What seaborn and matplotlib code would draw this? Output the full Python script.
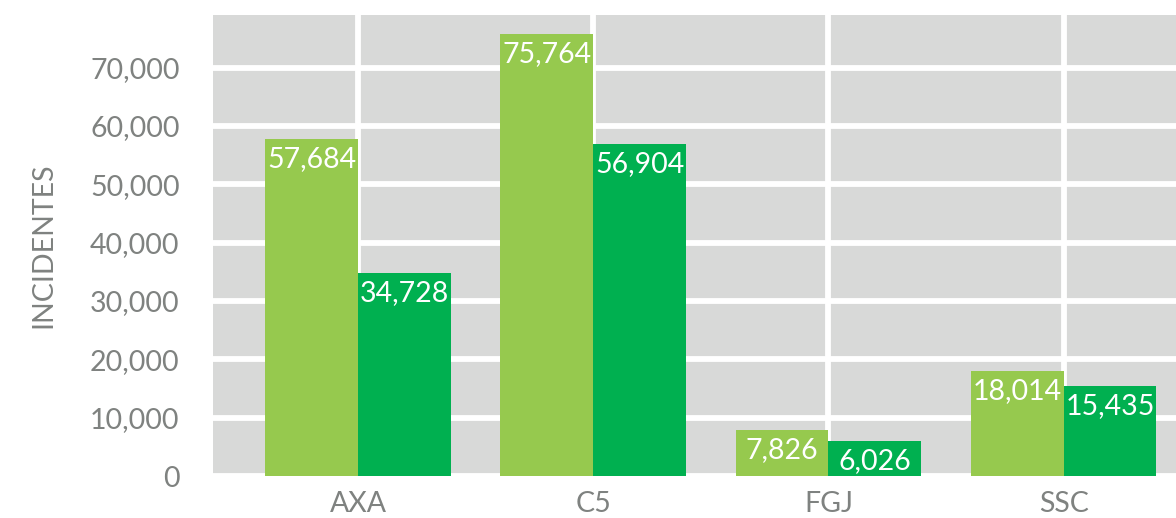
import pandas as pd
import seaborn as sns
import matplotlib.pyplot as plt
from matplotlib.ticker import FuncFormatter

categories = ["AXA", "C5", "FGJ", "SSC"]
serie_1 = [57684, 75764, 7826, 18014]
serie_2 = [34728, 56904, 6026, 15435]
series_names = ["Serie 1", "Serie 2"]
palette = ["#96C94E", "#00B050"]

df = pd.DataFrame(
    {
        "dependencia": categories * 2,
        "incidentes": serie_1 + serie_2,
        "serie": [series_names[0]] * 4 + [series_names[1]] * 4,
    }
)

sns.set_style("white")
plt.rcParams["font.family"] = ["Lato", "DejaVu Sans"]
gray = "#7F8280"

fig = plt.figure(figsize=(11.76, 5.18), dpi=100)
ax = fig.add_axes([0.181, 0.081, 0.819, 0.890])
sns.barplot(
    df,
    x="dependencia",
    y="incidentes",
    hue="serie",
    palette=palette,
    width=0.79,
    gap=0,
    saturation=1,
    linewidth=0,
    legend=False,
    ax=ax,
)
ax.set_facecolor("#D8D9D8")
ax.set_axisbelow(True)
ax.grid(True, color="white", linewidth=4.2)
for s in ax.spines.values():
    s.set_visible(False)

ax.set_xlim(-0.618, 3.478)
ax.set_ylim(0, 79000)
ax.set_yticks(range(0, 80000, 10000))
ax.yaxis.set_major_formatter(FuncFormatter(lambda v, p: f"{int(v):,}"))
ax.tick_params(axis="y", length=0, pad=24, labelsize=20.5, labelcolor=gray)
ax.tick_params(axis="x", length=0, pad=11, labelsize=20.5, labelcolor=gray)
ax.set_xlabel("")
ax.set_ylabel("INCIDENTES", fontsize=20.5, color=gray, labelpad=24)

# etiquetas blancas dentro de cada barra
for cont in ax.containers:
    for bar in cont:
        h = bar.get_height()
        ax.annotate(
            f"{int(h):,}",
            (bar.get_x() + bar.get_width() / 2, h),
            xytext=(0, -5),
            textcoords="offset points",
            ha="center",
            va="top",
            color="white",
            fontsize=20.5,
        )

plt.savefig("out.png", dpi=100)
